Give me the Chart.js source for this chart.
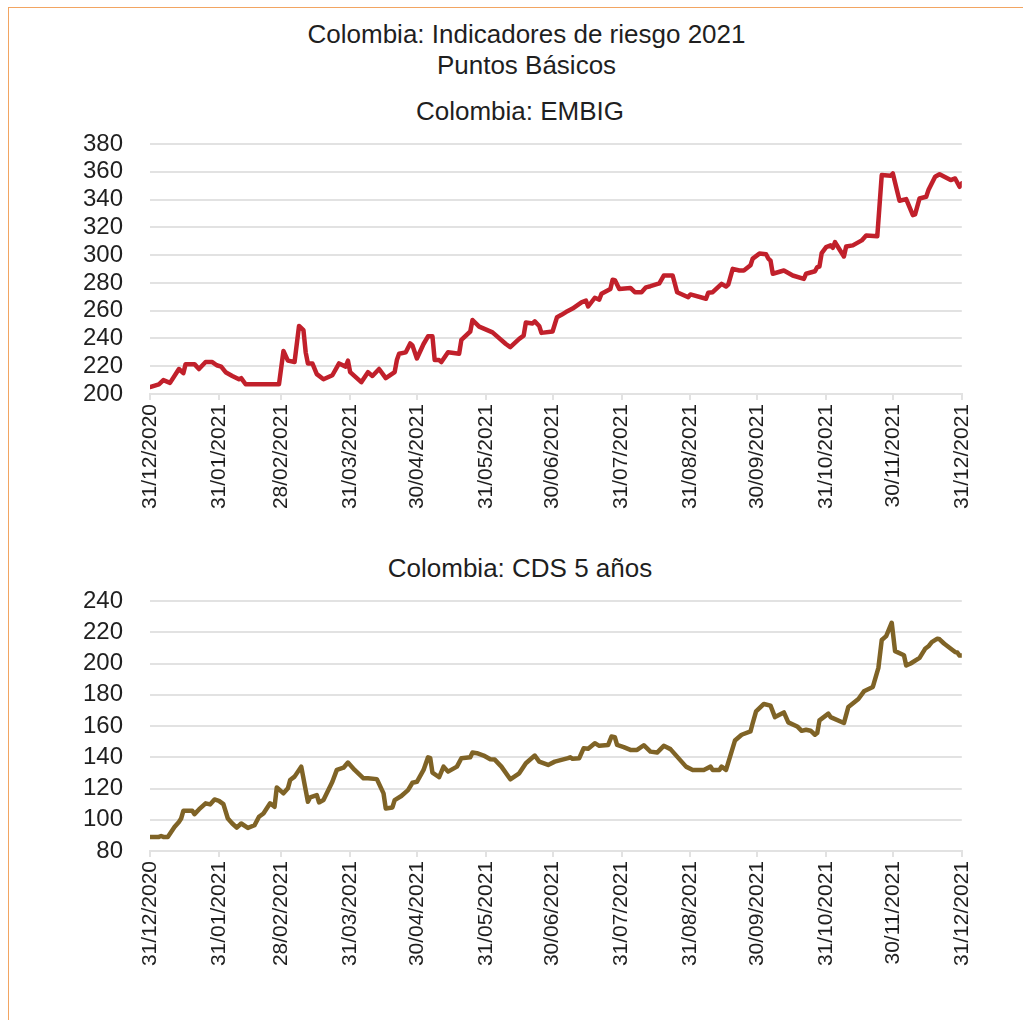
<!DOCTYPE html>
<html>
<head>
<meta charset="utf-8">
<script src="https://cdn.jsdelivr.net/npm/chart.js@4/dist/chart.umd.min.js"></script>
<style>
  html, body { margin: 0; padding: 0; background: #fff; overflow: hidden; }
  body { width: 1023px; height: 1020px; position: relative; font-family: "Liberation Sans", Arial, sans-serif; }
  .frame { position: absolute; left: 8px; top: 7px; width: 1100px; height: 1100px; border-left: 1px solid #f2a562; border-top: 1px solid #f2a562; }
  .head { position: absolute; left: 0; width: 1053px; text-align: center; font-size: 26px; color: #1f1f1f; }
  .sub { position: absolute; left: 0; width: 1040px; text-align: center; font-size: 26px; color: #1f1f1f; }
  .box { position: absolute; left: 10px; width: 981px; height: 423px; }
</style>
</head>
<body>
<div class="frame"></div>
<div class="head" style="top:19px">Colombia: Indicadores de riesgo 2021</div>
<div class="head" style="top:50px">Puntos Básicos</div>
<div class="sub" style="top:96px">Colombia: EMBIG</div>
<div class="sub" style="top:553px">Colombia: CDS 5 años</div>
<div class="box" style="top:96px"><canvas id="embigChart"></canvas></div>
<div class="box" style="top:553px"><canvas id="cdsChart"></canvas></div>

<script>
// x axis: days since 31/12/2020, ticks at each month end
const monthEndDays = [0, 31, 59, 90, 120, 151, 181, 212, 243, 273, 304, 334, 365];
const monthEndLabels = ['31/12/2020', '31/01/2021', '28/02/2021', '31/03/2021', '30/04/2021', '31/05/2021',
  '30/06/2021', '31/07/2021', '31/08/2021', '30/09/2021', '31/10/2021', '30/11/2021', '31/12/2021'];

// Colombia: EMBIG (pb)
const embigDays = [0, 4, 6, 9, 13, 15, 16, 20, 22, 25, 28, 30, 32, 34, 37, 40, 41, 43, 58, 60, 62, 65, 67, 69, 70, 71,
  73, 75, 78, 82, 85, 88, 89, 90, 95, 98, 100, 103, 106, 110, 111, 112, 115, 117, 118, 120, 123, 125, 127, 128,
  130, 131, 134, 139, 140, 144, 145, 148, 154, 160, 162, 166, 168, 169, 172, 173, 175, 176, 181, 183, 185, 187,
  190, 194, 196, 197, 200, 202, 203, 207, 208, 209, 211, 216, 218, 221, 223, 225, 229, 231, 235, 237, 242, 243,
  250, 251, 253, 257, 259, 260, 262, 265, 267, 270, 271, 274, 277, 278, 279, 280, 285, 289, 294, 295, 299, 300,
  301, 302, 304, 306, 307, 308, 312, 313, 316, 320, 322, 327, 329, 333, 334, 336, 337, 340, 343, 344, 346, 349,
  350, 353, 355, 360, 362, 364, 365];
const embigValues = [205, 207, 210, 208, 218, 215, 221.5, 221.5, 218, 223, 223, 220.7, 219.7, 215.7, 213, 210.6, 211.4, 207, 207, 231, 224, 223, 249, 246, 230, 222,
  222, 214.3, 210.6, 213.5, 222, 219.7, 224, 215.7, 208.5, 215.7, 213, 218, 211.4, 215.7, 224.4, 229, 230, 236.4, 235, 225.6, 236, 241.5, 241.5, 224.4,
  224.4, 223, 230, 229, 239, 245, 253.3, 248.5, 244.4, 236, 233.7, 239.7, 242, 251.5, 250.8, 252.3, 249, 244, 245, 255.3, 257, 259,
  261.5, 266, 267.3, 263, 269.3, 268, 272.2, 275.6, 282.3, 282, 275.6, 276.4, 273.3, 273.3, 276.8, 277.6, 279.7, 285.3, 285.3, 273.3, 269.7, 271.7,
  268.6, 272.9, 273.3, 279.3, 277.4, 278.8, 290.1, 288.9, 288.9, 292.7, 297.5, 301.1, 300.6, 297.5, 296, 286.6, 288.9, 285.3, 282.9, 286.6, 288.4, 291.3,
  291.8, 301.4, 305.8, 307, 305.3, 309.3, 299, 306.2, 307, 310.6, 314.2, 313.5, 357.6, 357.1, 358.8, 345.6, 339.1, 340.3, 328.8, 329.3, 340.8, 342,
  346.8, 356.4, 358.2, 354, 355.2, 349.2, 351.6];

// Colombia: CDS 5 años (pb)
const cdsDays = [0, 4, 5, 6, 8, 11, 13, 14, 15, 19, 20, 22, 25, 27, 29, 31, 33, 35, 37, 39, 41, 44, 47, 49, 51, 54, 56,
  57, 60, 62, 63, 65, 68, 70, 71, 72, 75, 76, 78, 82, 84, 87, 89, 92, 96, 98, 102, 105, 106, 109, 110, 113, 116,
  118, 120, 123, 125, 126, 127, 130, 132, 134, 138, 140, 144, 145, 147, 150, 153, 155, 158, 162, 166, 169, 173,
  175, 179, 182, 188, 189, 190, 193, 194, 195, 197, 200, 202, 206, 207.5, 209, 210, 213, 216, 219, 222, 225, 228,
  231, 234, 237, 241, 244, 249, 252, 253, 256, 257, 259, 263, 266, 270, 271, 272.5, 276, 279, 281, 285, 287, 291,
  293, 295, 297, 299, 300, 301, 305, 306, 312, 314, 318.5, 321, 325, 327.5, 329, 331, 333.5, 335, 339, 340, 342,
  346, 348.5, 350, 351.5, 354, 355, 357, 360.5, 362, 363, 364, 365];
const cdsValues = [89, 89, 89.6, 89, 89, 95.4, 98.6, 100.8, 105.7, 105.7, 103.6, 106.6, 110.5, 109.8, 113, 112.1, 110, 100.8, 97.6, 95, 97.6, 94.8, 96.5, 101.9, 104, 110.5, 108.3,
  120.7, 116.9, 120.1, 125.4, 127.6, 134, 119, 111.5, 114.3, 115.8, 111.1, 112.6, 124.3, 131.9, 133.3, 136.6, 131.9, 126.5, 126.5, 126, 116.9, 107.2, 107.9, 112.6, 115.2, 119,
  123.7, 124.3, 131.9, 140, 139.4, 130.1, 127.2, 134, 130.8, 134, 139.4, 140, 143, 142.6, 141.1, 138.7, 138.5, 134, 125.9, 129.7, 136.2, 141.1,
  137.2, 135.1, 137.2, 139.4, 140, 139, 139.4, 142.6, 145.8, 145.5, 149, 147.3, 147.9, 153.3, 152.9, 147.9, 146.5, 144.7, 144.7, 147.7, 143.6, 143,
  147.3, 145.2, 140.4, 134, 131.9, 131.9, 134, 131.9, 131.9, 134, 131.9, 150.7, 154.4, 156.5, 161.9, 169.3, 174.1, 173, 165.7, 168.7, 162.3, 159.7,
  156.9, 157.6, 157, 154.4, 155.5, 163.6, 167.9, 165.7, 161.9, 172.2, 177.3, 182.2, 185, 197.2, 215, 217.5, 226.1, 207.9, 205.3, 198.7, 200,
  203.6, 209.4, 211, 213.7, 215.9, 215.5, 212.8, 209, 207.3, 207, 205.1, 205.1];

const GRID = '#e2e2e2';
const TEXT = '#1f1f1f';
const FONT = '"Liberation Sans", Arial, sans-serif';

function makeChart(id, days, values, color, yMin, yMax) {
  const ctx = document.getElementById(id).getContext('2d');
  return new Chart(ctx, {
    type: 'line',
    data: {
      datasets: [{
        data: days.map((d, i) => ({ x: d, y: values[i] })),
        borderColor: color,
        borderWidth: 4.5,
        borderJoinStyle: 'round',
        borderCapStyle: 'round',
        pointRadius: 0,
        tension: 0,
        fill: false,
      }],
    },
    options: {
      responsive: true, maintainAspectRatio: false,
      animation: false,
      layout: { padding: { top: 48, left: 0, right: 0, bottom: 0 } }, // room for the html subtitle
      plugins: {
        legend: { display: false },
        tooltip: { enabled: false },
        title: { display: false },
      },
      scales: {
        x: {
          type: 'linear', min: 0, max: 365,
          afterBuildTicks: s => { s.ticks = monthEndDays.map(v => ({ value: v })); },
          afterFit: s => { s.height = 125; },
          grid: { display: true, drawOnChartArea: false, drawTicks: true, tickLength: 6, color: GRID, lineWidth: 2 },
          border: { display: true, color: GRID, width: 2 },
          ticks: {
            autoSkip: false, minRotation: 90, maxRotation: 90, padding: 4, color: TEXT,
            font: { family: FONT, size: 21 },
            callback: v => monthEndLabels[monthEndDays.indexOf(v)] || '',
          },
        },
        y: {
          min: yMin, max: yMax,
          afterFit: s => { s.width = 140; },
          grid: { color: GRID, lineWidth: 2, drawTicks: false },
          border: { display: false },
          ticks: {
            stepSize: 20, autoSkip: false, padding: 27, color: TEXT,
            font: { family: FONT, size: 24 },
          },
        },
      },
    },
  });
}

makeChart('embigChart', embigDays, embigValues, '#c1202b', 200, 380);
makeChart('cdsChart', cdsDays, cdsValues, '#7f6326', 80, 240);
</script>
</body>
</html>
